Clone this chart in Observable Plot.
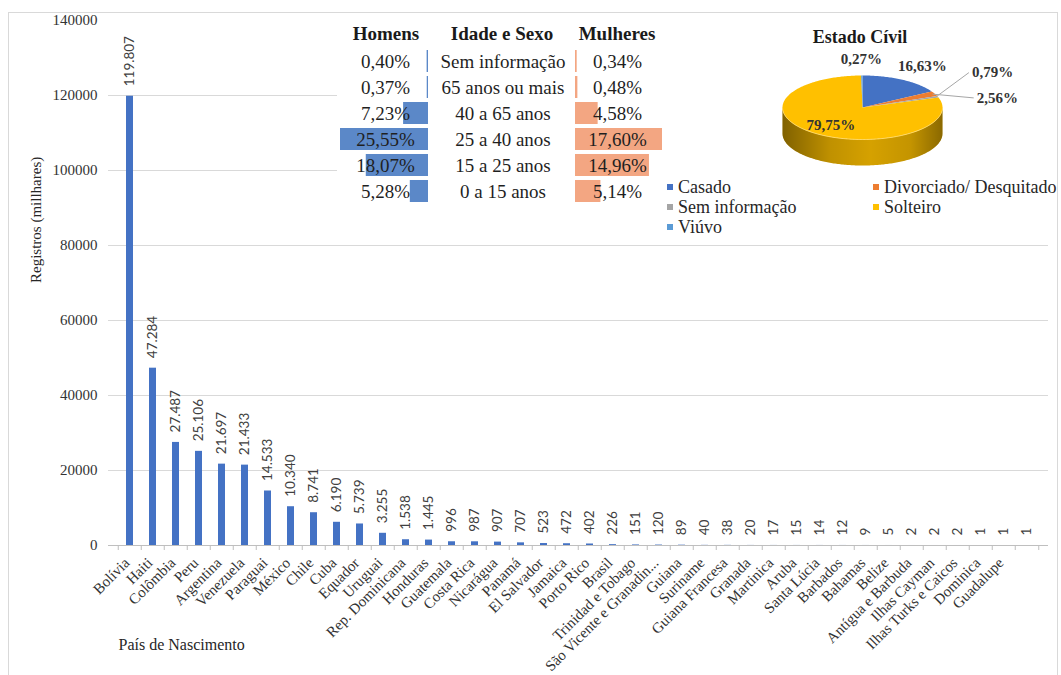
<!DOCTYPE html>
<html lang="pt-BR">
<head>
<meta charset="utf-8">
<script src="https://cdn.jsdelivr.net/npm/d3@7"></script>
<script src="https://cdn.jsdelivr.net/npm/@observablehq/plot@0.6"></script>
<style>
  html, body { margin: 0; padding: 0; background: #fff; }
  #chart { position: relative; width: 1061px; height: 675px; overflow: hidden;
           font-family: "Liberation Serif", "Times New Roman", serif; color: #262626; }
  #chart > svg { position: absolute; overflow: visible; }
  .frame { position: absolute; left: 8px; top: 12px; width: 1050px; height: 672px;
           border: 1px solid #d9d9d9; box-sizing: border-box; }
  .box { position: absolute; background: #fff; }
  .lbl { position: absolute; white-space: nowrap; transform: translate(-50%, -50%); line-height: 1; }
  .hdr { font-weight: bold; font-size: 19px; color: #1a1a1a; }
  .leg { position: absolute; white-space: nowrap; font-size: 18px; line-height: 1; transform: translateY(-50%); color: #262626; }
  .leg i { display: inline-block; width: 6px; height: 6px; margin-right: 5px; vertical-align: middle; position: relative; top: -2px; }
</style>
</head>
<body>
<div id="chart"><div class="frame"></div></div>
<script>
// ---- Registros por país de nascimento ----
const paises = ["Bolívia","Haiti","Colômbia","Peru","Argentina","Venezuela","Paraguai","México","Chile","Cuba",
  "Equador","Uruguai","Rep. Dominicana","Honduras","Guatemala","Costa Rica","Nicarágua","Panamá","El Salvador","Jamaica",
  "Porto Rico","Brasil","Trinidad e Tobago","São Vicente e Granadin...","Guiana","Suriname","Guiana Francesa","Granada","Martinica","Aruba",
  "Santa Lúcia","Barbados","Bahamas","Belize","Antígua e Barbuda","Ilhas Cayman","Ilhas Turks e Caicos","Dominica","Guadalupe",""];
const registros = [119807,47284,27487,25106,21697,21433,14533,10340,8741,6190,
  5739,3255,1538,1445,996,987,907,707,523,472,
  402,226,151,120,89,40,38,20,17,15,
  14,12,9,5,2,2,2,1,1,1];
const yTicks = [0,20000,40000,60000,80000,100000,120000,140000];

// ---- Idade e sexo (%) ----
const faixas = ["Sem informação","65 anos ou mais","40 a 65 anos","25 a 40 anos","15 a 25 anos","0 a 15 anos"];
const homens = [0.40,0.37,7.23,25.55,18.07,5.28];
const mulheres = [0.34,0.48,4.58,17.60,14.96,5.14];

// ---- Estado civil (%) ----
const estados = ["Casado","Divorciado/ Desquitado","Sem informação","Solteiro","Viúvo"];
const estadoPct = [16.63,2.56,0.79,79.75,0.27];
const estadoCores = ["#4472C4","#ED7D31","#A5A5A5","#FFC000","#5B9BD5"];

const serif = '"Liberation Serif", "Times New Roman", serif';
const sans = 'Lato, "Open Sans", "Liberation Sans", sans-serif';
const ptBR = d3.formatLocale({decimal: ",", thousands: ".", grouping: [3], currency: ["R$", ""]});
const fmtMil = ptBR.format(",d");
const fmtPct = v => ptBR.format(".2f")(v) + "%";

const chart = document.getElementById("chart");
function put(node, left, top) {
  node.style.left = left + "px";
  node.style.top = top + "px";
  chart.appendChild(node);
  return node;
}
function div(cls, html, left, top, css = "") {
  const d = document.createElement("div");
  d.className = cls;
  d.innerHTML = html;
  d.style.cssText = css;
  return put(d, left, top);
}

// ---------- Gráfico de barras principal ----------
const W = 1061, H = 675;
const frameL = 108, frameR = 1048, frameT = 20, frameB = 545;
const linhas = paises.map((p, i) => ({pais: p, valor: registros[i]}));
const passo = (frameR - frameL) / paises.length;

const principal = Plot.plot({
  width: W, height: H,
  marginLeft: frameL, marginRight: W - frameR, marginTop: frameT, marginBottom: H - frameB,
  style: {fontFamily: serif, fontSize: "15px", color: "#333", background: "transparent", overflow: "visible"},
  x: {domain: paises, paddingInner: 0.7, paddingOuter: 0.35, label: null},
  y: {domain: [0, 140000], label: null},
  marks: [
    Plot.ruleY(yTicks.filter(t => t > 0 && t < 140000), {stroke: "#d9d9d9"}),
    Plot.axisY(yTicks, {tickSize: 0, tickPadding: 11, label: null, fontSize: 15, tickFormat: d => String(d)}),
    Plot.barY(linhas, {x: "pais", y: "valor", fill: "#4472C4"}),
    Plot.ruleY([0], {stroke: "#bfbfbf"}),
    Plot.ruleX(paises, {x: d => d, dx: -passo / 2, y1: 0, y2: 0, insetBottom: -5, stroke: "#bfbfbf"}),
    Plot.ruleX(paises.slice(-1), {x: d => d, dx: passo / 2, y1: 0, y2: 0, insetBottom: -5, stroke: "#bfbfbf"}),
    Plot.axisX({tickRotate: -45, tickSize: 0, tickPadding: 15, dx: -3, label: null, fontSize: 15}),
    Plot.text(linhas, {x: "pais", y: "valor", text: d => fmtMil(d.valor), rotate: -90, textAnchor: "start",
                       dy: -10, fontFamily: sans, fontSize: 13.5, fill: "#404040"}),
    Plot.text(["Registros (millhares)"], {frameAnchor: "left", rotate: -90, dx: -72, fontSize: 15, fill: "#262626"}),
    Plot.text(["País de Nascimento"], {frameAnchor: "bottom-left", textAnchor: "start", dx: 10, dy: 104, fontSize: 16, fill: "#262626"})
  ]
});
put(principal, 0, 0);

// ---------- Quadro idade e sexo ----------
div("box", "", 337, 14, "width:331px;height:195px");
div("box", "", 668, 14, "width:388px;height:226px");

const faixaRows = faixas.map((f, i) => ({faixa: f, homens: homens[i], mulheres: mulheres[i]}));
const rowTop = 46.8, rowH = 158.4;
const yFaixa = {domain: faixas, range: [0, rowH], paddingInner: 0.17, paddingOuter: 0.085, axis: null};
const tabStyle = {fontFamily: serif, fontSize: "19px", color: "#1f1f1f", background: "transparent", overflow: "visible"};

const colHomens = Plot.plot({
  width: 90, height: rowH, margin: 0, style: tabStyle,
  x: {domain: [0, d3.max(homens)], range: [88, 0], axis: null},
  y: yFaixa,
  marks: [
    Plot.barX(faixaRows, {x: "homens", y: "faixa", fill: "#5B88C8"}),
    Plot.text(faixaRows, {y: "faixa", frameAnchor: "middle", text: d => fmtPct(d.homens), fill: "#1f1f1f"})
  ]
});
put(colHomens, 340, rowTop);

const colFaixa = Plot.plot({
  width: 145, height: rowH, margin: 0, style: tabStyle,
  y: yFaixa,
  marks: [Plot.text(faixaRows, {y: "faixa", frameAnchor: "middle", text: "faixa", fill: "#1f1f1f"})]
});
put(colFaixa, 430, rowTop);

const colMulheres = Plot.plot({
  width: 90, height: rowH, margin: 0, style: tabStyle,
  x: {domain: [0, d3.max(mulheres)], range: [0, 87], axis: null},
  y: yFaixa,
  marks: [
    Plot.barX(faixaRows, {x: "mulheres", y: "faixa", fill: "#F3A682"}),
    Plot.text(faixaRows, {y: "faixa", frameAnchor: "middle", dx: -3, text: d => fmtPct(d.mulheres), fill: "#1f1f1f"})
  ]
});
put(colMulheres, 575, rowTop);

div("lbl hdr", "Homens", 386, 33);
div("lbl hdr", "Idade e Sexo", 502, 33);
div("lbl hdr", "Mulheres", 617, 33);

// ---------- Pizza 3D do estado civil ----------
const pieRows = estados.map((e, i) => ({estado: e, pct: estadoPct[i], cor: estadoCores[i]}));
const arcos = d3.pie().sort(null).value(d => d.pct)(pieRows);
const grau = Math.PI / 180;
const espessura = 26 / 32;           // altura da lateral, em raios verticais
const pieCx = 194, pieCy = 93, pieRx = 80, pieRy = 32;

function arco(a0, a1) {
  const n = Math.max(2, Math.ceil((a1 - a0) / grau));
  return d3.range(n + 1).map(k => a0 + (a1 - a0) * k / n);
}
const topo = arcos.flatMap(a => [
  {estado: a.data.estado, cor: a.data.cor, x: 0, y: 0},
  ...arco(a.startAngle, a.endAngle).map(t => ({estado: a.data.estado, cor: a.data.cor, x: Math.sin(t), y: Math.cos(t)}))
]);
const frenteIni = Math.PI / 2, frenteFim = 3 * Math.PI / 2;
const lateral = arcos.flatMap(a => {
  const a0 = Math.max(a.startAngle, frenteIni), a1 = Math.min(a.endAngle, frenteFim);
  if (a1 <= a0) return [];
  const cor = d3.color(a.data.cor).darker(0.5).formatHex();
  const ts = arco(a0, a1);
  return [
    ...ts.map(t => ({estado: a.data.estado, cor, x: Math.sin(t), y: Math.cos(t)})),
    ...ts.slice().reverse().map(t => ({estado: a.data.estado, cor, x: Math.sin(t), y: Math.cos(t) - espessura}))
  ];
});
const frente = arco(frenteIni, frenteFim);
const sombra = [
  ...frente.map(t => ({x: Math.sin(t), y: Math.cos(t)})),
  ...frente.slice().reverse().map(t => ({x: Math.sin(t), y: Math.cos(t) - espessura}))
];
const borda = frente.map(t => ({x: Math.sin(t), y: Math.cos(t)}));

const meio = a => (a.startAngle + a.endAngle) / 2;
const rotulos = arcos.filter(a => a.data.pct > 5 || a.data.pct < 0.5).map(a => {
  const r = a.data.pct > 50 ? 0.68 : 1.5;
  return {texto: fmtPct(a.data.pct), x: r * Math.sin(meio(a)), y: r * Math.cos(meio(a))};
});
// rótulos com linha de chamada, à direita da pizza
const chamadas = [
  {estado: "Divorciado/ Desquitado", lx: 1.39, ly: 0.30},
  {estado: "Sem informação", lx: 1.33, ly: 1.09}
].map(c => {
  const a = arcos.find(d => d.data.estado === c.estado);
  const m = meio(a);
  return {texto: fmtPct(a.data.pct), x1: Math.sin(m) * 0.97, y1: Math.cos(m) * 0.97, x2: c.lx, y2: c.ly};
});

const pizza = Plot.plot({
  width: 390, height: 200, margin: 0,
  style: {fontFamily: serif, background: "transparent", overflow: "visible"},
  x: {domain: [-1, 1], range: [pieCx - pieRx, pieCx + pieRx], axis: null},
  y: {domain: [-1, 1], range: [pieCy + pieRy, pieCy - pieRy], axis: null},
  marks: [
    () => {
      const defs = d3.create("svg:defs");
      const g = defs.append("linearGradient").attr("id", "sombraLado")
        .attr("x1", "0").attr("x2", "1").attr("y1", "0").attr("y2", "0");
      [[0, 0.4], [0.3, 0.1], [0.55, 0], [0.8, 0.08], [1, 0.35]].forEach(([o, op]) =>
        g.append("stop").attr("offset", o).attr("stop-color", "#000").attr("stop-opacity", op));
      return defs.node();
    },
    Plot.line(lateral, {x: "x", y: "y", z: "estado", fill: "cor", stroke: "none"}),
    Plot.line(sombra, {x: "x", y: "y", fill: "url(#sombraLado)", stroke: "none"}),
    Plot.line(topo, {x: "x", y: "y", z: "estado", fill: "cor", stroke: "none"}),
    Plot.line(borda, {x: "x", y: "y", stroke: "#ffd966", strokeWidth: 1}),
    Plot.link(chamadas, {x1: "x1", y1: "y1", x2: "x2", y2: "y2", stroke: "#a6a6a6", strokeWidth: 1}),
    Plot.text(rotulos, {x: "x", y: "y", text: "texto", fontSize: 15, fontWeight: "bold", fill: "#333"}),
    Plot.text(chamadas, {x: "x2", y: "y2", text: "texto", textAnchor: "start", dx: 3, fontSize: 15, fontWeight: "bold", fill: "#333"})
  ]
});
put(pizza, 668, 14);

div("lbl hdr", "Estado Cívil", 860, 37, "font-size:18px");

// legenda da pizza
const legPos = [[667, 187], [873, 187], [667, 207], [873, 207], [667, 227]];
pieRows.forEach((d, i) => {
  div("leg", `<i style="background:${d.cor}"></i>${d.estado}`, legPos[i][0], legPos[i][1]);
});
</script>
</body>
</html>
